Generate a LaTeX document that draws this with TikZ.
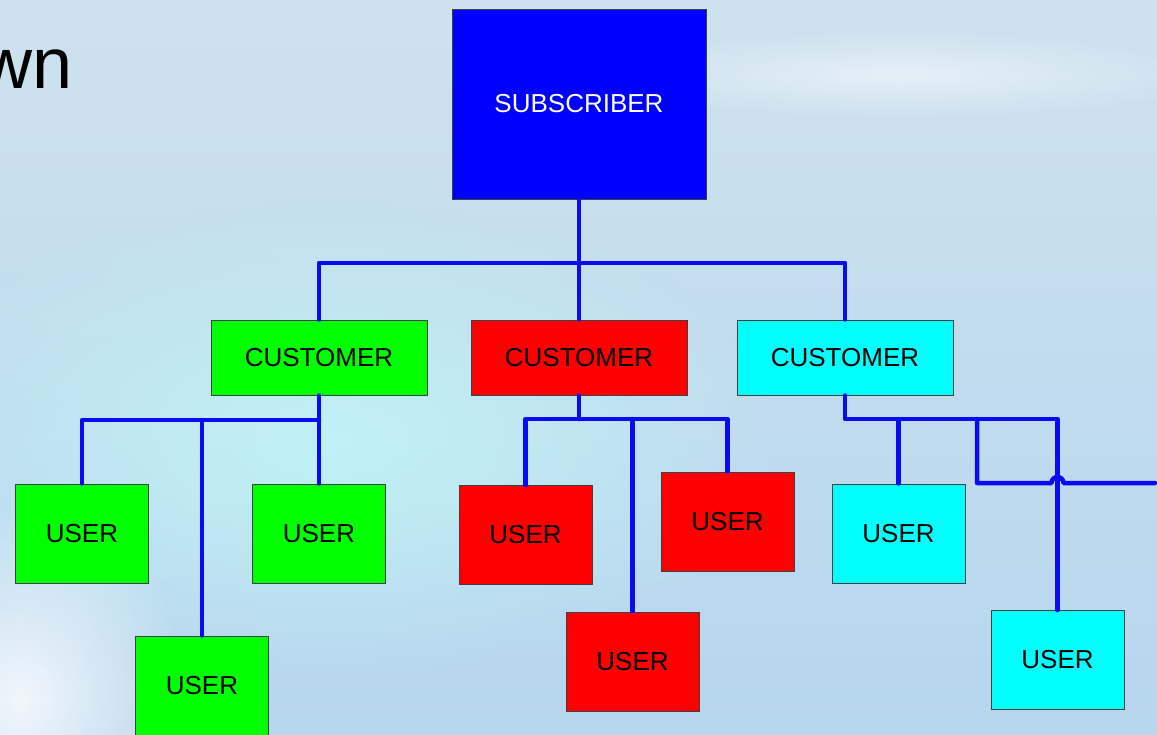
\documentclass[tikz,border=0pt]{standalone}
\usepackage{fontspec}
\setmainfont{Liberation Sans}
\usepackage{tikz}
\usetikzlibrary{fadings}

\definecolor{boxgreen}{RGB}{0,255,0}
\definecolor{boxred}{RGB}{255,0,0}
\definecolor{boxcyan}{RGB}{0,255,255}
\definecolor{boxblue}{RGB}{0,0,255}
\definecolor{busblue}{RGB}{10,10,245}
\definecolor{bgtop}{RGB}{206,226,238}
\definecolor{bgbottom}{RGB}{182,214,238}
\definecolor{bgglow}{RGB}{192,242,246}

\tikzfading[name=softglow, inner color=transparent!0, outer color=transparent!100]

\begin{document}
\begin{tikzpicture}[x=1pt, y=-1pt,
        box/.style={rectangle, draw=black!75, line width=0.9pt, inner sep=0pt, font=\fontsize{26}{30}\selectfont},
        customer/.style={box, minimum width=216pt, minimum height=75pt},
        user/.style={box, minimum width=133pt, minimum height=99pt},
        bus/.style={draw=busblue, line width=4.5pt, line cap=round, line join=round}]
        \useasboundingbox (0,0) rectangle (1157,734);
        \clip (0,0) rectangle (1157,734);
        \shade[top color=bgtop, bottom color=bgbottom] (0,0) rectangle (1157,734);
        \fill[bgglow, path fading=softglow] (330,440) ellipse (460pt and 240pt);
        \fill[white, opacity=0.8, path fading=softglow] (20,700) ellipse (170pt and 200pt);
        \fill[white, opacity=0.5, path fading=softglow] (900,75) ellipse (320pt and 45pt);

        \node (title) [anchor=base east, font=\fontsize{72}{80}\selectfont, text=black] at (76,88) {wn};

        \node (sub) [box, fill=boxblue, text=white, minimum width=254pt, minimum height=190pt] at (579,104) {SUBSCRIBER};

        \node (cg) [customer, fill=boxgreen] at (319,357.5) {CUSTOMER};
        \node (cr) [customer, fill=boxred] at (579,357.5) {CUSTOMER};
        \node (cc) [customer, fill=boxcyan] at (845,357.5) {CUSTOMER};

        \node (ug1) [user, fill=boxgreen] at (82,533.5) {USER};
        \node (ug2) [user, fill=boxgreen] at (319,533.5) {USER};
        \node (ug3) [user, fill=boxgreen] at (202,685.5) {USER};

        \node (ur1) [user, fill=boxred] at (525.5,535) {USER};
        \node (ur2) [user, fill=boxred] at (727.5,521.5) {USER};
        \node (ur3) [user, fill=boxred] at (632.5,661.5) {USER};

        \node (uc1) [user, fill=boxcyan] at (898.5,533.5) {USER};
        \node (uc2) [user, fill=boxcyan] at (1057.5,660) {USER};

        \coordinate (subbus) at (579,263);
        \coordinate (gbus) at (319,420);
        \coordinate (rbus) at (579,419);
        \coordinate (cbus) at (845,419);
        \coordinate (loopleft) at (977,419);
        \coordinate (loopend) at (1155,483);

        \draw[bus] (sub.south) -- (cr.north);
        \draw[bus] (cg.north) |- (subbus) -| (cc.north);

        \draw[bus] (cg.south) -- (ug2.north);
        \draw[bus] (ug1.north) |- (gbus);
        \draw[bus] (ug3.north) -- (ug3.north |- gbus);

        \draw[bus] (cr.south) -- (rbus);
        \draw[bus] (ur1.north) |- (ur2.north |- rbus) -- (ur2.north);
        \draw[bus] (ur3.north) -- (ur3.north |- rbus);

        \draw[bus] (cc.south) |- (uc2.north |- cbus) -- (uc2.north);
        \draw[bus] (uc1.north) -- (uc1.north |- cbus);
        \draw[bus] (loopleft) |- ([xshift=-6pt]uc2.north |- loopend) arc[start angle=180, end angle=0, radius=6pt] -- (loopend);
    \end{tikzpicture}
\end{document}
